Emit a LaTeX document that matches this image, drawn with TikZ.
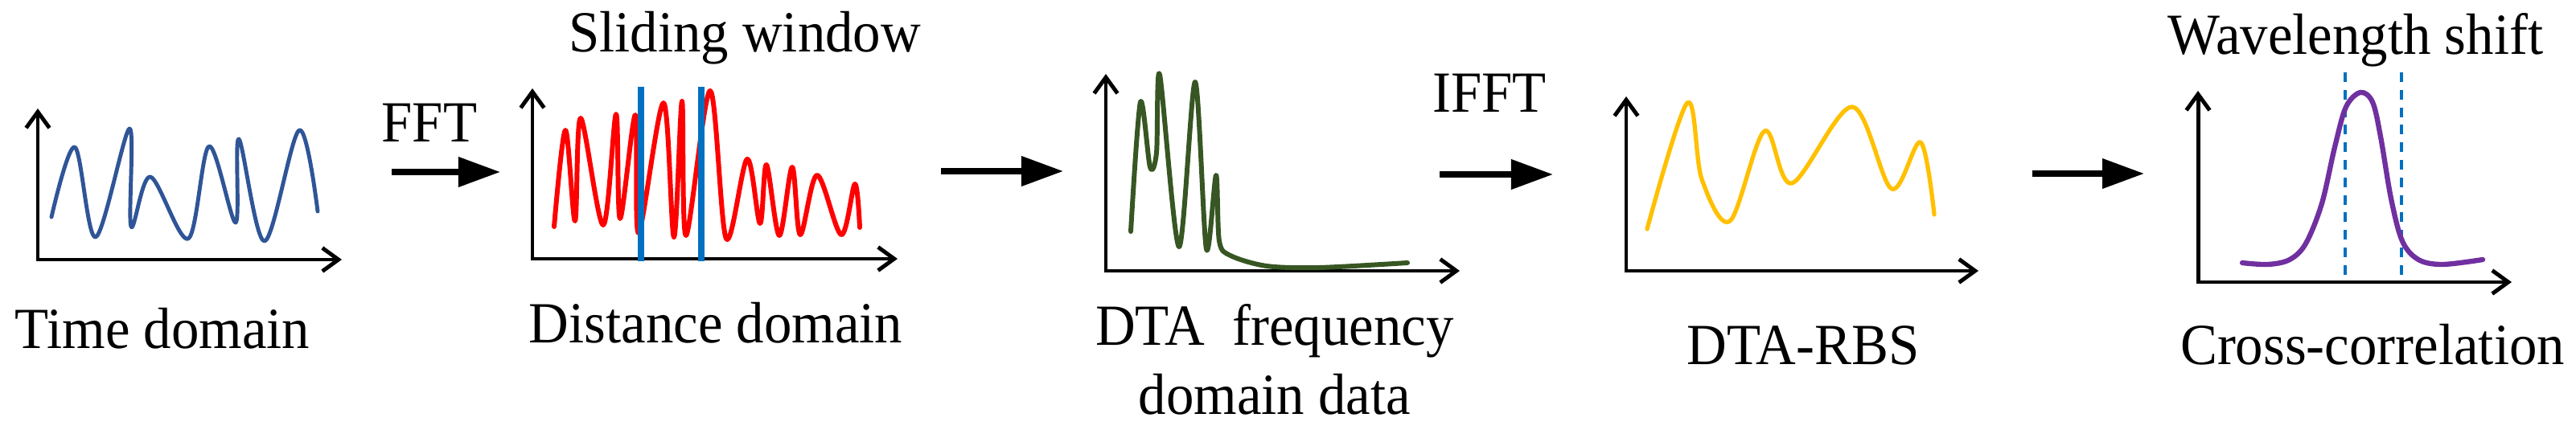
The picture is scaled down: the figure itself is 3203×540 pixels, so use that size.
\documentclass[tikz,border=0pt]{standalone}
\usepackage{fontspec}
\setmainfont{Liberation Serif}[FakeStretch=0.95]
\usepackage{tikz}
\usetikzlibrary{arrows.meta,positioning,calc}
\definecolor{timeblue}{HTML}{2F5597}
\definecolor{winblue}{HTML}{0070C0}
\definecolor{dtagreen}{HTML}{375623}
\definecolor{rbsyellow}{HTML}{FFC000}
\definecolor{corrpurple}{HTML}{7030A0}
\tikzset{
	axes/.style={line width=1.4pt,{Straight Barb[length=2mm,width=2.9mm]}-{Straight Barb[length=2mm,width=2.9mm]}},
	sig/.style={line width=1.5pt,line join=round,line cap=round},
	bigarrow/.style={line width=2pt,-{Triangle[length=5.2mm,width=3.6mm]}},
	lbl/.style={font=\fontsize{20.6}{24.2}\selectfont,inner sep=0pt,anchor=base,align=center},
}

\begin{document}
\begin{tikzpicture}[x=0.01cm,y=-0.01cm]
		\useasboundingbox (0,0) rectangle (3203,540);
		% time domain
		\coordinate (y1) at (47,135);
		\coordinate (x1) at (425,323);
		\draw[axes] (y1) |- (x1);
		\draw[sig,timeblue,line width=1.4pt] plot[smooth,tension=0.55] coordinates {(64,270) (93,183) (119,295) (161,160) (163,282) (187,220) (234,297) (260,182) (293,277) (297,173) (329,300) (372,162) (395,263)};
		\node[lbl] (1) at (202,433) {Time domain};
		\coordinate (a1) at (487,214);
		\coordinate (b1) at (622,214);
		\draw[bigarrow] (a1) -- (b1);
		\node[lbl] (fft) at (534,177) {FFT};
		% distance domain
		\coordinate (y2) at (662,110);
		\coordinate (x2) at (1116,322);
		\draw[axes] (y2) |- (x2);
		\draw[sig,red,line width=1.7pt] plot[smooth,tension=0.55] coordinates {(689,282) (703,162) (715,275) (722,147) (750,280) (766,142) (771,272) (790,143) (794,290) (825,128) (838,295) (848,126) (853,293) (883,113) (903,297) (929,198) (945,278) (953,205) (969,293) (985,208) (995,292) (1016,218) (1046,292) (1063,229) (1069,283)};
		\coordinate (w1) at (797,108);
		\coordinate (w2) at (872,108);
		\draw[winblue,line width=2pt] (w1) -- ++(0,217) (w2) -- ++(0,217);
		\node[lbl] (win) at (926,65) {Sliding window};
		\node[lbl] (2) at (890,427) {Distance domain};
		\coordinate (a2) at (1170,213);
		\coordinate (b2) at (1322,213);
		\draw[bigarrow] (a2) -- (b2);
		% DTA frequency domain data
		\coordinate (y3) at (1375,92);
		\coordinate (x3) at (1815,337);
		\draw[axes] (y3) |- (x3);
		\draw[sig,dtagreen,line width=1.7pt] plot[smooth,tension=0.5] coordinates {(1406,288) (1418,127) (1430,208) (1438,190) (1442,93) (1466,307) (1486,102) (1500,310) (1512,218) (1516,300) (1530,318) (1575,331) (1640,333) (1750,327)};
		\node[lbl] (3) at (1585,515) {DTA\ \ frequency\\domain data};
		\coordinate (a3) at (1790,217);
		\coordinate (b3) at (1931,217);
		\draw[bigarrow] (a3) -- (b3);
		\node[lbl] (ifft) at (1852,140) {IFFT};
		% DTA-RBS
		\coordinate (y4) at (2022,120);
		\coordinate (x4) at (2460,337);
		\draw[axes] (y4) |- (x4);
		\draw[sig,rbsyellow,line width=1.5pt] plot[smooth,tension=0.55] coordinates {(2048,285) (2098,128) (2116,223) (2151,275) (2194,163) (2228,228) (2303,133) (2352,235) (2388,177) (2405,267)};
		\node[lbl] (4) at (2242,453) {DTA-RBS};
		\coordinate (a4) at (2527,216);
		\coordinate (b4) at (2666,216);
		\draw[bigarrow] (a4) -- (b4);
		% cross-correlation
		\coordinate (y5) at (2733,113);
		\coordinate (x5) at (3123,351);
		\draw[axes] (y5) |- (x5);
		\coordinate (s1) at (2916,90);
		\coordinate (s2) at (2986,90);
		\draw[winblue,line width=1.1pt,dash pattern=on 3.4pt off 2.8pt] (s1) -- ++(0,257) (s2) -- ++(0,257);
		\draw[sig,corrpurple,line width=1.8pt] plot[smooth,tension=0.55] coordinates {(2788,327) (2820,329) (2847,323) (2867,303) (2887,253) (2903,183) (2917,133) (2935,115) (2950,127) (2960,170) (2973,247) (2987,300) (3007,323) (3037,329) (3087,323)};
		\node[lbl] (shift) at (2929,68) {Wavelength shift};
		\node[lbl] (5) at (2950,453) {Cross-correlation};
	\end{tikzpicture}
\end{document}
